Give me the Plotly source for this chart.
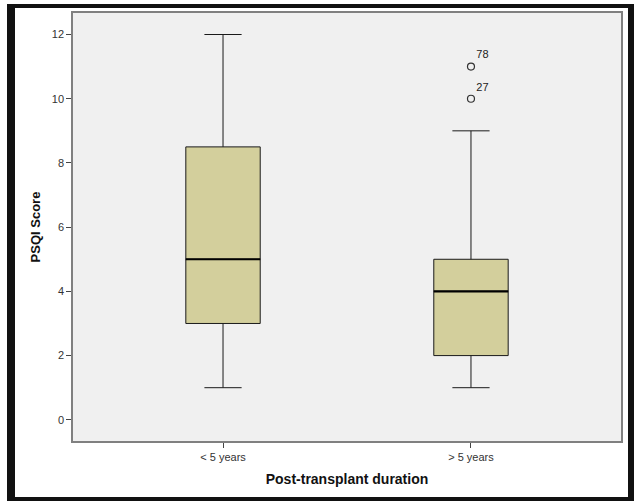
import plotly.graph_objects as go

categories = ["< 5 years", "> 5 years"]
lower_fence = [1, 1]
q1 = [3, 2]
median = [5, 4]
q3 = [8.5, 5]
upper_fence = [12, 9]
outlier_cat = ["> 5 years", "> 5 years"]
outlier_val = [11, 10]
outlier_id = ["78", "27"]
y_ticks = [0, 2, 4, 6, 8, 10, 12]

W, H = 634, 501
L, R, T, B = 73, 13, 13, 60
pw, ph = W - L - R, H - T - B

fig = go.Figure()
fig.add_trace(go.Box(
    x=categories, q1=q1, median=median, q3=q3,
    lowerfence=lower_fence, upperfence=upper_fence,
    fillcolor="#d3cf9c", line=dict(color="#1a1a1a", width=1),
    width=0.3, whiskerwidth=0.5, boxpoints=False, hoverinfo="skip",
    showlegend=False,
))
fig.add_trace(go.Scatter(
    x=outlier_cat, y=outlier_val, mode="markers+text", text=outlier_id,
    textposition="top right",
    textfont=dict(family="Liberation Sans, Arial", size=11, color="#222"),
    marker=dict(symbol="circle-open", size=7, color="#333", line=dict(width=1.2)),
    showlegend=False, cliponaxis=False,
))

shapes = []
for i, m in enumerate(median):
    shapes.append(dict(type="line", xref="x", yref="y", x0=i - 0.15, x1=i + 0.15,
                       y0=m, y1=m, line=dict(color="black", width=2.2)))

def px_x(p):
    return (p - L) / pw

def px_y(p):
    return 1 - (p - T) / ph

# black image frame strips
for (x0, x1, y0, y1) in [(7, 15, 4, 501), (7, 634, 4, 8), (628, 634, 4, 501), (7, 634, 497, 501)]:
    shapes.append(dict(type="rect", xref="paper", yref="paper",
                       x0=px_x(x0), x1=px_x(x1), y0=px_y(y1), y1=px_y(y0),
                       fillcolor="#111", line=dict(width=0), layer="above"))

fig.update_layout(
    width=W, height=H,
    margin=dict(l=L, r=R, t=T, b=B),
    paper_bgcolor="white", plot_bgcolor="#f0f0f0",
    font=dict(family="Liberation Sans, Arial", size=11, color="#333"),
    shapes=shapes,
    xaxis=dict(
        type="category", range=[-0.605, 1.605],
        showline=True, mirror=True, linecolor="#808080", linewidth=1.5,
        ticks="outside", ticklen=5, tickcolor="#444", showgrid=False,
        tickfont=dict(size=11, color="#333"),
        title=dict(text="<b>Post-transplant duration</b>", font=dict(size=14, color="#111"), standoff=12),
    ),
    yaxis=dict(
        range=[-0.66, 12.67], tickvals=y_ticks,
        showline=True, mirror=True, linecolor="#808080", linewidth=1.5,
        ticks="outside", ticklen=5, tickcolor="#444", showgrid=False, zeroline=False,
        tickfont=dict(size=11, color="#333"),
        title=dict(text="<b>PSQI Score</b>", font=dict(size=13, color="#111"), standoff=8),
    ),
)

fig.write_html("out.html")
